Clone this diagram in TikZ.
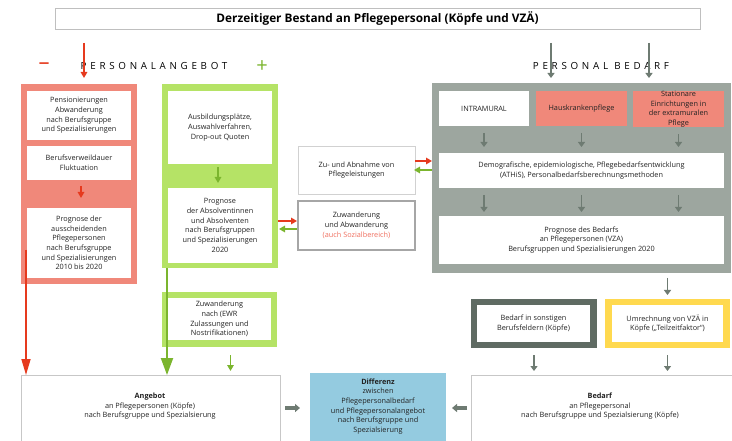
\documentclass[tikz,border=0pt]{standalone}
\usepackage{fontspec}
\setmainfont{Open Sans}
\newfontfamily\spaced[LetterSpace=38]{Open Sans}
\usetikzlibrary{arrows.meta}
\definecolor{salmon}{HTML}{F0887A}
\definecolor{lgreen}{HTML}{B5E366}
\definecolor{graybg}{HTML}{9DA69F}
\definecolor{arrgray}{HTML}{6E7B72}
\definecolor{darkframe}{HTML}{5F6B63}
\definecolor{yel}{HTML}{FFD94F}
\definecolor{lblue}{HTML}{94CBE0}
\definecolor{redarr}{HTML}{E63A1E}
\definecolor{grarr}{HTML}{7BB52E}
\definecolor{txt}{HTML}{222222}
\definecolor{soz}{HTML}{F07060}
\begin{document}
\begin{tikzpicture}[x=1pt,y=-1pt,
  box/.style={anchor=north west,inner sep=0pt,outer sep=0pt,align=center,text=txt,
    font=\fontsize{7.3}{9.7}\selectfont},
  wbox/.style={box,fill=white},
  redA/.style={draw=redarr,line width=1.6pt,-{Triangle[width=6.5pt,length=6pt]}},
  greenA/.style={draw=grarr,line width=1.6pt,-{Triangle[width=6.5pt,length=6pt]}},
  grayA/.style={draw=arrgray,line width=1.4pt,-{Triangle[width=7pt,length=5pt]}},
  thickA/.style={draw=arrgray,line width=3.2pt,-{Triangle[width=8pt,length=5pt]}},
]
\useasboundingbox (0,0) rectangle (732,441);
\clip (0,0) rectangle (732,441);
\fill[white] (0,0) rectangle (732,441);

% title
\node[box,draw=black!25,line width=0.8pt,minimum width=645pt,minimum height=21pt,
  font=\fontsize{11.8}{13}\selectfont\bfseries,text=black] (title) at (55,8)
  {Derzeitiger Bestand an Pflegepersonal (Köpfe und VZÄ)};

% headings
\node[text=redarr,font=\fontsize{22}{22}\selectfont,inner sep=0pt] (minus) at (44,66) {\textendash};
\node[text=black,font=\fontsize{9.8}{11}\spaced,inner sep=0pt] (pa) at (154,66) {PERSONALANGEBOT};
\node[text=grarr,font=\fontsize{20}{20}\selectfont,inner sep=0pt] (plus) at (262,67) {+};
\node[text=black,font=\fontsize{9.8}{11}\spaced,inner sep=0pt] (pb) at (601,66) {PERSONAL BEDARF};

% red column
\node[box,fill=salmon,minimum width=116pt,minimum height=200pt] (redcol) at (21,84) {};
\node[wbox,minimum width=104pt,minimum height=49pt] (r1) at (27,91)
  {Pensionierungen\\Abwanderung\\nach Berufsgruppe\\und Spezialisierungen};
\node[wbox,minimum width=104pt,minimum height=34pt] (r2) at (27,146)
  {Berufsverweildauer\\Fluktuation};
\node[wbox,minimum width=104pt,minimum height=70pt] (r3) at (27,208)
  {Prognose der\\ausscheidenden\\Pflegepersonen\\nach Berufsgruppe\\und Spezialisierungen\\2010 bis 2020};

% green column
\node[box,fill=lgreen,minimum width=116pt,minimum height=184pt] (greencol) at (162,84) {};
\node[wbox,minimum width=104pt,minimum height=73pt] (g1) at (168,91)
  {Ausbildungsplätze,\\Auswahlverfahren,\\Drop-out Quoten};
\node[wbox,minimum width=104pt,minimum height=75pt] (g2) at (168,188)
  {Prognose\\der Absolventinnen\\und Absolventen\\nach Berufsgruppen\\und Spezialisierungen\\2020};

\node[box,fill=lgreen,minimum width=115pt,minimum height=55pt] (zuwcol) at (162,292) {};
\node[wbox,minimum width=103pt,minimum height=42pt] (zuw) at (168,298)
  {Zuwanderung\\nach (EWR\\Zulassungen und\\Nostrifikationen)};

% middle boxes
\node[wbox,draw=black!18,line width=0.8pt,minimum width=117pt,minimum height=48pt] (zuab) at (298,146)
  {Zu- und Abnahme von\\Pflegeleistungen};
\node[wbox,draw=black!35,line width=1.2pt,minimum width=117pt,minimum height=49pt] (zuwab) at (298,201)
  {Zuwanderung\\und Abwanderung\\\textcolor{soz}{(auch Sozialbereich)}};

% gray block
\node[box,fill=graybg,minimum width=299pt,minimum height=190pt] (graybox) at (432,83) {};
\node[wbox,minimum width=90pt,minimum height=35pt] (intra) at (439,91) {INTRAMURAL};
\node[box,fill=salmon,minimum width=91pt,minimum height=35pt] (haus) at (536,91) {Hauskrankenpflege};
\node[box,fill=salmon,minimum width=91pt,minimum height=35pt] (stat) at (633,91)
  {Stationare\\Einrichtungen in\\der extramuralen\\Pflege};
\node[wbox,minimum width=285pt,minimum height=35pt] (demo) at (439,153)
  {Demografische, epidemiologische, Pflegebedarfsentwicklung\\(ATHiS), Personalbedarfsberechnungsmethoden};
\node[wbox,minimum width=285pt,minimum height=48pt] (progB) at (439,216)
  {Prognose des Bedarfs\\an Pflegepersonen (VZA)\\Berufsgruppen und Spezialisierungen 2020};

% lower right frames
\node[box,fill=darkframe,minimum width=126pt,minimum height=49pt] (sonst) at (471,299) {};
\node[wbox,minimum width=113pt,minimum height=37pt] (sonstin) at (477,305)
  {Bedarf in sonstigen\\Berufsfeldern (Köpfe)};
\node[box,fill=yel,minimum width=125pt,minimum height=49pt] (umr) at (605,299) {};
\node[wbox,minimum width=111pt,minimum height=37pt] (umrin) at (612,305)
  {Umrechnung von VZÄ in\\Köpfe („Teilzeitfaktor“)};

% bottom boxes
\node[wbox,draw=black!22,line width=0.8pt,minimum width=259pt,minimum height=80pt] (angebot) at (21,375) {};
\node[box,anchor=north] (angtxt) at (150,393)
  {\textbf{Angebot}\\an Pflegepersonen (Köpfe)\\nach Berufsgruppe und Spezialsierung};
\node[box,fill=lblue,minimum width=136pt,minimum height=80pt] (diff) at (310,373) {};
\node[box,anchor=north] (difftxt) at (378,378.5)
  {\textbf{Differenz}\\zwischen\\Pflegepersonalbedarf\\und Pflegepersonalangebot\\nach Berufsgruppe und\\Spezialsierung};
\node[wbox,draw=black!22,line width=0.8pt,minimum width=265pt,minimum height=80pt] (bedarf) at (471,375) {};
\node[box,anchor=north] (bedtxt) at (600,393)
  {\textbf{Bedarf}\\an Pflegepersonal\\nach Berufsgruppe und Spezialsierung (Köpfe)};

% arrows from top
\coordinate (rs) at (84,43);
\coordinate (gs1) at (551,43);
\coordinate (gs2) at (649,43);
\draw[redA,shorten >=6pt] (rs) -- (rs |- redcol.north);
\draw[grayA,shorten >=5pt] (gs1) -- (gs1 |- graybox.north);
\draw[grayA,shorten >=5pt] (gs2) -- (gs2 |- graybox.north);

% inside columns
\draw[redA,shorten <=6pt,shorten >=10pt] ([xshift=2pt]r2.south) -- ([xshift=2pt]r3.north);
\draw[greenA,shorten <=3pt,shorten >=5pt] ([xshift=-2pt]g1.south) -- ([xshift=-2pt]g2.north);

% long arrows to Angebot
\coordinate (rl) at (26,250);
\draw[draw=redarr,line width=1.6pt,-{Triangle[width=9pt,length=16pt]}] (rl) -- (rl |- angebot.north);
\coordinate (gl) at (167,268);
\draw[draw=grarr,line width=2pt,-{Triangle[width=12pt,length=17pt]}] (gl) -- (gl |- angebot.north);
\draw[greenA,shorten <=8pt,shorten >=4pt] ([xshift=11pt]zuwcol.south) -- ([xshift=11pt]zuwcol.south |- angebot.north);

% red/green pairs
\draw[redA] (zuab.east |- 0,161) -- (graybox.west |- 0,161);
\draw[greenA] (graybox.west |- 0,170) -- ([xshift=-1pt]zuab.east |- 0,170);
\draw[redA] (greencol.east |- 0,221) -- ([xshift=-1pt]zuwab.west |- 0,221);
\draw[greenA] ([xshift=-1pt]zuwab.west |- 0,229) -- ([xshift=1pt]greencol.east |- 0,229);

% gray block arrows
\foreach \b in {intra,haus,stat}{
  \draw[grayA,shorten <=7pt,shorten >=6pt] (\b.south) -- (\b.south |- demo.north);
  \draw[grayA,shorten <=7pt,shorten >=4pt] (\b.south |- demo.south) -- (\b.south |- progB.north);
}
\draw[grayA,shorten <=5pt,shorten >=4pt] (umr.north |- graybox.south) -- (umr.north);
\draw[grayA,shorten <=7pt,shorten >=4pt] (sonst.south) -- (sonst.south |- bedarf.north);
\draw[grayA,shorten <=7pt,shorten >=4pt] (umr.south) -- (umr.south |- bedarf.north);

% horizontal thick arrows
\draw[thickA,shorten <=5pt,shorten >=10pt] (angebot.east |- 0,408) -- (diff.west |- 0,408);
\draw[thickA,shorten <=4pt,shorten >=6pt] (bedarf.west |- 0,408) -- (diff.east |- 0,408);
\end{tikzpicture}
\end{document}
